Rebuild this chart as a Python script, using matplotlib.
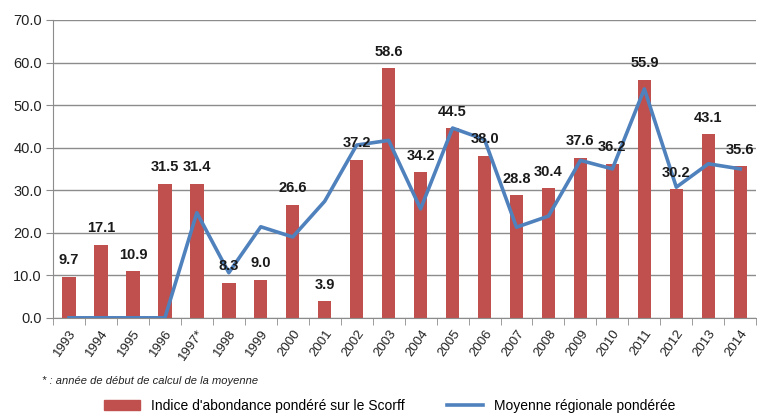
import matplotlib
matplotlib.use("Agg")
import matplotlib.pyplot as plt
import numpy as np
from matplotlib.patches import Patch
from matplotlib.lines import Line2D

years = ["1993","1994","1995","1996","1997*","1998","1999","2000","2001","2002","2003",
         "2004","2005","2006","2007","2008","2009","2010","2011","2012","2013","2014"]
scorff = [9.7,17.1,10.9,31.5,31.4,8.3,9.0,26.6,3.9,37.2,58.6,34.2,44.5,38.0,28.8,30.4,
          37.6,36.2,55.9,30.2,43.1,35.6]
regional = [0,0,0,0,24.7,10.6,21.4,19.0,27.4,40.6,41.7,25.6,44.6,41.9,21.3,23.9,37.0,35.0,
            53.8,30.7,36.2,35.0]
yticks = [0,10,20,30,40,50,60,70]

plt.rcParams['font.family'] = ['Liberation Sans', 'DejaVu Sans']
fig = plt.figure(figsize=(7.57,4.16), dpi=100)
ax = fig.add_axes([0.070, 0.236, 0.929, 0.716])

x = np.arange(len(years))
red = '#C0504D'
blue = '#4F81BD'
ax.bar(x, scorff, width=0.42, color=red, zorder=2)
ax.plot(x, regional, color=blue, lw=2.6, zorder=3)

for xi, v in zip(x, scorff):
    ax.annotate(f"{v:.1f}", (xi, v), xytext=(0, 7), textcoords='offset points',
                ha='center', va='bottom', fontsize=10.5, fontweight='bold', color='#1a1a1a', zorder=4)

ax.set_ylim(0,70)
ax.set_xlim(-0.5, len(years)-0.5)
ax.set_yticks(yticks)
ax.set_yticklabels([f"{t:.1f}" for t in yticks], fontsize=10.5, color='#222222')
ax.yaxis.grid(True, color='#8c8c8c', lw=1, zorder=0)
ax.set_axisbelow(True)
for s in ['top','right']:
    ax.spines[s].set_visible(False)
ax.spines['left'].set_color('#8c8c8c')
ax.spines['bottom'].set_color('#8c8c8c')
ax.tick_params(axis='y', length=5, color='#8c8c8c', pad=3)

ax.set_xticks(x)
ax.set_xticklabels(years, rotation=55, ha='right', rotation_mode='anchor', fontsize=9.5, color='#222222')
ax.tick_params(axis='x', length=0, pad=7)
ax.set_xticks(np.arange(-0.5, len(years), 1), minor=True)
ax.tick_params(axis='x', which='minor', length=5, color='#8c8c8c')

fig.text(0.055, 0.084, "* : année de début de calcul de la moyenne", fontsize=8, style='italic',
         color='#222222', va='center')

handles = [Patch(color=red, label="Indice d'abondance pondéré sur le Scorff"),
           Line2D([0],[0], color=blue, lw=2.6, label="Moyenne régionale pondérée")]
fig.legend(handles=handles, loc='center', bbox_to_anchor=(0.515, 0.024), ncol=2, frameon=False,
           fontsize=10, handlelength=2.6, columnspacing=3)

fig.savefig("out.png", dpi=100)
